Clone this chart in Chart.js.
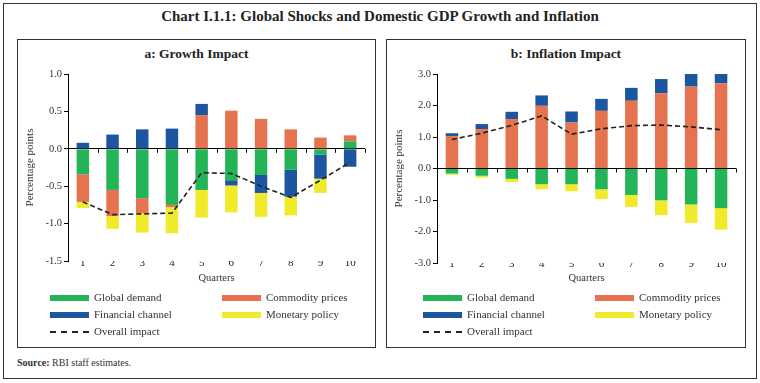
<!DOCTYPE html>
<html>
<head>
<meta charset="utf-8">
<script src="https://cdn.jsdelivr.net/npm/chart.js@4.4.1/dist/chart.umd.min.js"></script>
<style>
  html, body { margin: 0; padding: 0; background: #fff; }
  body { width: 760px; height: 383px; position: relative; overflow: hidden; font-family: "Liberation Serif", "DejaVu Serif", serif; color: #222; }
  .outer { position: absolute; left: 3px; top: 3px; width: 752px; height: 374px; border: 1px solid #333; }
  .title { position: absolute; left: 0; top: 8px; width: 760px; text-align: center; font-weight: bold; font-size: 15px; color: #222; }
  .panel { position: absolute; top: 39px; height: 307px; border: 1px solid #333; }
  .sub { position: absolute; top: 46px; text-align: center; font-weight: bold; font-size: 13.5px; color: #222; }
  canvas { position: absolute; }
  .leg { position: absolute; font-size: 11px; color: #333; white-space: nowrap; line-height: 12px; }
  .sw { position: absolute; width: 39px; height: 6px; }
  .dash { position: absolute; width: 39px; height: 0; border-top: 2px dashed #222; }
  .src { position: absolute; left: 17px; top: 357px; font-size: 10px; color: #333; }
</style>
</head>
<body>
<div class="outer"></div>
<div class="title">Chart I.1.1: Global Shocks and Domestic GDP Growth and Inflation</div>
<div class="panel" style="left:17px; width:357px;"></div>
<div class="panel" style="left:386px; width:358px;"></div>
<div class="sub" style="left:17px; width:359px;">a: Growth Impact</div>
<div class="sub" style="left:386px; width:360px;">b: Inflation Impact</div>
<canvas id="c1" width="350" height="227" style="left:20px; top:64px;"></canvas>
<canvas id="c2" width="352" height="229" style="left:389px; top:64px;"></canvas>
<div id="legends"></div>
<div class="src"><b>Source:</b> RBI staff estimates.</div>
<script>
const quarters = ['1','2','3','4','5','6','7','8','9','10'];
const seriesNames = ['Global demand','Commodity prices','Financial channel','Monetary policy','Overall impact'];
const seriesColors = ['#22b457','#e6734f','#1d56a0','#f0ea2a','#222222'];

// Panel a: Growth Impact
const growthGlobal    = [-0.34, -0.55, -0.66, -0.75, -0.55, -0.42, -0.35, -0.28, -0.08, 0.10];
const growthCommodity = [-0.37, -0.35, -0.20, -0.03, 0.45, 0.51, 0.40, 0.26, 0.15, 0.08];
const growthFinancial = [0.08, 0.19, 0.26, 0.27, 0.15, -0.07, -0.24, -0.36, -0.32, -0.24];
const growthMonetary  = [-0.08, -0.17, -0.26, -0.35, -0.37, -0.36, -0.32, -0.25, -0.19, 0.00];
const growthOverall   = [-0.71, -0.88, -0.87, -0.86, -0.32, -0.33, -0.50, -0.65, -0.42, -0.18];
const growthTicks = { min: -1.5, max: 1.0, step: 0.5 };

// Panel b: Inflation Impact
const inflGlobal    = [-0.16, -0.23, -0.33, -0.50, -0.50, -0.66, -0.84, -1.01, -1.14, -1.26];
const inflCommodity = [1.03, 1.25, 1.57, 1.99, 1.46, 1.83, 2.15, 2.39, 2.60, 2.70];
const inflFinancial = [0.09, 0.16, 0.23, 0.33, 0.35, 0.38, 0.41, 0.45, 0.40, 0.30];
const inflMonetary  = [-0.04, -0.06, -0.10, -0.16, -0.22, -0.31, -0.38, -0.47, -0.59, -0.68];
const inflOverall   = [0.92, 1.12, 1.37, 1.67, 1.09, 1.26, 1.36, 1.38, 1.32, 1.23];
const inflTicks = { min: -3.0, max: 3.0, step: 1.0 };

const FONT = "'Liberation Serif', 'DejaVu Serif', serif";

const zeroTicks = {
  id: 'zeroTicks',
  afterDatasetsDraw(chart) {
    const xs = chart.scales.x, ys = chart.scales.y;
    const y0 = ys.getPixelForValue(0);
    const n = chart.data.labels.length;
    const ctx = chart.ctx;
    ctx.save();
    ctx.strokeStyle = '#000';
    ctx.lineWidth = 1;
    ctx.beginPath();
    for (let i = 1; i <= n; i++) {
      const px = Math.round(xs.left + i * xs.width / n) + 0.5;
      ctx.moveTo(px, y0);
      ctx.lineTo(px, y0 + 4);
    }
    ctx.stroke();
    ctx.restore();
  }
};

function makeChart(id, g, c, f, m, o, t, labelPad, titlePadBottom) {
  const bar = (label, data, color) => ({
    type: 'bar', label, data, backgroundColor: color, borderWidth: 0,
    stack: 'bars', order: 2, barPercentage: 0.42, categoryPercentage: 1.0
  });
  return new Chart(document.getElementById(id), {
    data: {
      labels: quarters,
      datasets: [
        bar(seriesNames[0], g, seriesColors[0]),
        bar(seriesNames[1], c, seriesColors[1]),
        bar(seriesNames[2], f, seriesColors[2]),
        bar(seriesNames[3], m, seriesColors[3]),
        { type: 'line', label: seriesNames[4], data: o, borderColor: seriesColors[4],
          borderWidth: 1.6, borderDash: [5, 3], pointRadius: 0, fill: false,
          stack: 'line', order: 0, tension: 0 }
      ]
    },
    options: {
      responsive: false, animation: false, devicePixelRatio: 1,
      layout: { padding: { top: 10, right: 5, left: 0, bottom: 0 } },
      plugins: { legend: { display: false }, tooltip: { enabled: false } },
      scales: {
        x: {
          stacked: true,
          grid: { display: false, drawTicks: false },
          border: { display: false },
          ticks: { color: '#222', font: { family: FONT, size: 11 }, padding: labelPad, maxRotation: 0, autoSkip: false },
          title: { display: true, text: 'Quarters', color: '#333', font: { family: FONT, size: 10.5 }, padding: { top: 0, bottom: titlePadBottom } },
          afterFit: s => { s.height = 30; }
        },
        y: {
          stacked: true,
          min: t.min, max: t.max,
          grid: {
            color: ctx => (ctx.tick && Math.abs(ctx.tick.value) < 1e-9) ? '#000' : 'rgba(0,0,0,0)',
            tickColor: '#000', tickLength: 4, lineWidth: 1, drawOnChartArea: true
          },
          border: { display: true, color: '#000', width: 1 },
          ticks: { stepSize: t.step, color: '#333', padding: 2, font: { family: FONT, size: 10.5 },
                   callback: v => Number(v).toFixed(1) },
          title: { display: true, text: 'Percentage points', color: '#333', font: { family: FONT, size: 11 }, padding: { top: 4, bottom: 0 } },
          afterFit: s => { s.width = 48; }
        }
      }
    },
    plugins: [zeroTicks]
  });
}

makeChart('c1', growthGlobal, growthCommodity, growthFinancial, growthMonetary, growthOverall, growthTicks, -4, 6);
makeChart('c2', inflGlobal, inflCommodity, inflFinancial, inflMonetary, inflOverall, inflTicks, -5, 8);

// HTML legends
const legendCols = [[50, 222], [423, 595]];
const legendRows = [298, 315, 332];
const legendLayout = [[0,0],[0,1],[1,0],[1,1],[2,0]];
const legHost = document.getElementById('legends');
legendCols.forEach(cols => {
  seriesNames.forEach((name, i) => {
    const [r, cIdx] = legendLayout[i];
    const x = cols[cIdx], y = legendRows[r];
    const sw = document.createElement('div');
    if (i === 4) {
      sw.className = 'dash';
      sw.style.left = x + 'px'; sw.style.top = (y - 1) + 'px';
    } else {
      sw.className = 'sw';
      sw.style.left = x + 'px'; sw.style.top = (y - 3) + 'px';
      sw.style.background = seriesColors[i];
    }
    legHost.appendChild(sw);
    const tx = document.createElement('div');
    tx.className = 'leg';
    tx.textContent = name;
    tx.style.left = (x + 44) + 'px'; tx.style.top = (y - 7) + 'px';
    legHost.appendChild(tx);
  });
});
</script>
</body>
</html>
